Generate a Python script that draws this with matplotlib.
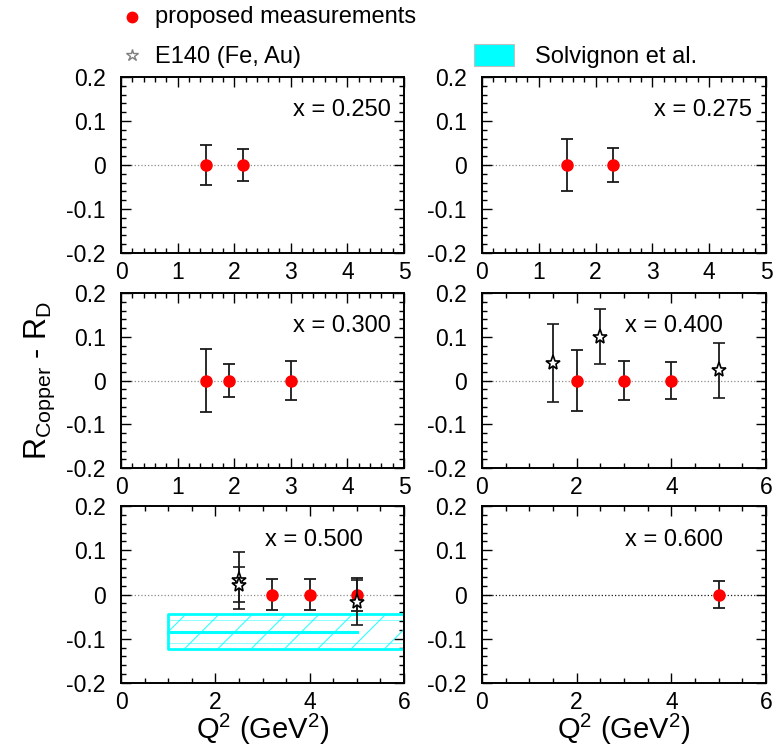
import matplotlib
matplotlib.use("Agg")
import matplotlib.pyplot as plt
from matplotlib.ticker import MultipleLocator, FuncFormatter


# puntos propuestos (R_Cu - R_D = 0) y su error, por bin de x
Q2_X0250 = [1.5, 2.15]
ERR_X0250 = [0.046, 0.036]

Q2_X0275 = [1.5, 2.3]
ERR_X0275 = [0.058, 0.038]

Q2_X0300 = [1.5, 1.9, 3.0]
ERR_X0300 = [0.073, 0.038, 0.045]

Q2_X0400 = [2.0, 3.0, 4.0]
ERR_X0400 = [0.070, 0.045, 0.042]

Q2_X0500 = [3.2, 4.0, 5.0]
ERR_X0500 = [0.034, 0.035, 0.037]

Q2_X0600 = [5.0]
ERR_X0600 = [0.031]

# E140 (Fe, Au)
E140_Q2_X0400 = [1.5, 2.5, 5.0]
E140_R_X0400 = [0.040, 0.100, 0.023]
E140_ERR_X0400 = [0.089, 0.063, 0.062]

E140_Q2_X0500 = [2.5, 2.5, 5.0]
E140_R_X0500 = [0.032, 0.022, -0.018]
E140_ERR_X0500 = [0.065, 0.040, 0.051]

# Solvignon et al. (x = 0.5)
SOLV_Q2_LINEA = [1.0, 5.0]
SOLV_R = -0.084
SOLV_Q2_BANDA = [1.0, 6.0]
SOLV_BANDA = [-0.124, -0.043]
SOLV_INTERNAS = [-0.110, -0.057]

ETIQUETAS_X = ["x = 0.250", "x = 0.275", "x = 0.300", "x = 0.400", "x = 0.500", "x = 0.600"]

ROJO = "#ff0000"
CIAN = "#00ffff"

plt.rcParams["font.family"] = ["Liberation Sans", "DejaVu Sans"]
plt.rcParams["mathtext.fontset"] = "custom"
plt.rcParams["mathtext.rm"] = "Liberation Sans"
plt.rcParams["mathtext.default"] = "regular"
plt.rcParams["axes.unicode_minus"] = False
plt.rcParams["hatch.linewidth"] = 0.8


def formato_y(v, pos):
    if abs(v) < 1e-9:
        return "0"
    return f"{v:.1f}"


def preparar_panel(ax, xmax, paso_mayor, paso_menor):
    ax.set_xlim(0, xmax)
    ax.set_ylim(-0.2, 0.2)
    ax.xaxis.set_major_locator(MultipleLocator(paso_mayor))
    ax.xaxis.set_minor_locator(MultipleLocator(paso_menor))
    ax.yaxis.set_major_locator(MultipleLocator(0.1))
    ax.yaxis.set_minor_locator(MultipleLocator(0.02))
    ax.yaxis.set_major_formatter(FuncFormatter(formato_y))
    ax.tick_params(which="both", direction="in", top=True, right=True,
                   width=1.0, colors="black", labelsize=16.5)
    ax.tick_params(which="major", length=7.5)
    ax.tick_params(which="minor", length=3.8)
    ax.tick_params(axis="y", pad=11)
    ax.tick_params(axis="x", pad=6)
    for s in ax.spines.values():
        s.set_linewidth(1.4)


def linea_cero(ax, color="0.55"):
    ax.axhline(0, color=color, linestyle=":", linewidth=0.9, zorder=1)


def propuestos(ax, q2, err):
    ax.errorbar(q2, [0] * len(q2), yerr=err, fmt="o", color=ROJO, ms=8,
                ecolor="0.1", elinewidth=1.3, capsize=4.5, capthick=1.3, zorder=3)


def e140(ax, q2, r, err):
    ax.errorbar(q2, r, yerr=err, fmt="*", ms=11, mfc="white", mec="black",
                mew=1.2, ecolor="0.1", elinewidth=1.3, capsize=4.5, capthick=1.3,
                zorder=4)


def etiqueta(ax, texto, x):
    ax.text(x, 0.81, texto, transform=ax.transAxes, ha="right", va="center",
            fontsize=17)


def main():
    fig = plt.figure(figsize=(7.84, 7.49), dpi=100)

    izq, der = 121 / 784, 482 / 784
    ancho_i, ancho_d = 283 / 784, 284 / 784
    filas = [(1 - 253 / 749, 176 / 749), (1 - 468 / 749, 175 / 749), (1 - 683 / 749, 177 / 749)]

    ax1 = fig.add_axes([izq, filas[0][0], ancho_i, filas[0][1]])
    ax2 = fig.add_axes([der, filas[0][0], ancho_d, filas[0][1]])
    ax3 = fig.add_axes([izq, filas[1][0], ancho_i, filas[1][1]])
    ax4 = fig.add_axes([der, filas[1][0], ancho_d, filas[1][1]])
    ax5 = fig.add_axes([izq, filas[2][0], ancho_i, filas[2][1]])
    ax6 = fig.add_axes([der, filas[2][0], ancho_d, filas[2][1]])

    for ax in (ax1, ax2, ax3):
        preparar_panel(ax, 5, 1, 0.2)
    for ax in (ax4, ax5, ax6):
        preparar_panel(ax, 6, 2, 0.5)

    for ax in (ax1, ax2, ax3, ax4, ax5):
        linea_cero(ax)
    linea_cero(ax6, color="0.1")

    propuestos(ax1, Q2_X0250, ERR_X0250)
    propuestos(ax2, Q2_X0275, ERR_X0275)
    propuestos(ax3, Q2_X0300, ERR_X0300)
    propuestos(ax4, Q2_X0400, ERR_X0400)
    propuestos(ax5, Q2_X0500, ERR_X0500)
    propuestos(ax6, Q2_X0600, ERR_X0600)

    e140(ax4, E140_Q2_X0400, E140_R_X0400, E140_ERR_X0400)
    e140(ax5, E140_Q2_X0500, E140_R_X0500, E140_ERR_X0500)

    # banda de Solvignon et al.
    ax5.fill_between(SOLV_Q2_BANDA, SOLV_BANDA[0], SOLV_BANDA[1], facecolor="none",
                     edgecolor=CIAN, hatch="/", linewidth=0, zorder=2, alpha=0.8)
    ax5.fill_between(SOLV_Q2_BANDA, SOLV_BANDA[0], SOLV_BANDA[1], facecolor="none",
                     edgecolor=CIAN, linewidth=2.0, zorder=2)
    for v in SOLV_INTERNAS:
        ax5.plot(SOLV_Q2_BANDA, [v, v], color=CIAN, linewidth=0.7, alpha=0.45, zorder=2)
    ax5.plot(SOLV_Q2_LINEA, [SOLV_R, SOLV_R], color=CIAN, linewidth=2.2, zorder=2)

    etiqueta(ax1, ETIQUETAS_X[0], 0.954)
    etiqueta(ax2, ETIQUETAS_X[1], 0.951)
    etiqueta(ax3, ETIQUETAS_X[2], 0.954)
    etiqueta(ax4, ETIQUETAS_X[3], 0.849)
    etiqueta(ax5, ETIQUETAS_X[4], 0.855)
    etiqueta(ax6, ETIQUETAS_X[5], 0.849)

    for ax in (ax5, ax6):
        ax.set_xlabel(r"Q$^2$ (GeV$^2$)", fontsize=21, labelpad=-1.5)

    fig.text(40 / 784, 1 - 380 / 749, r"R$_{Copper}$ - R$_{D}$", fontsize=22,
             rotation=90, ha="center", va="center")

    # leyenda arriba, en coordenadas de pixel
    ley = fig.add_axes([0, 0, 1, 1], facecolor="none")
    ley.set_xlim(0, 784)
    ley.set_ylim(749, 0)
    ley.axis("off")
    ley.plot([131.7], [16.5], "o", color=ROJO, ms=7.5)
    ley.text(155, 17, "proposed measurements", fontsize=17, va="center")
    ley.plot([131.7], [55], "*", ms=9, mfc="white", mec="0.5", mew=1.0)
    ley.text(155, 57, "E140 (Fe, Au)", fontsize=17, va="center")
    ley.add_patch(plt.Rectangle((474, 44), 40, 22, facecolor=CIAN, edgecolor="0.75",
                                linewidth=0.8))
    ley.text(535, 57, "Solvignon et al.", fontsize=17, va="center")

    fig.savefig("out.png", dpi=100)
    plt.close(fig)


if __name__ == "__main__":
    main()
